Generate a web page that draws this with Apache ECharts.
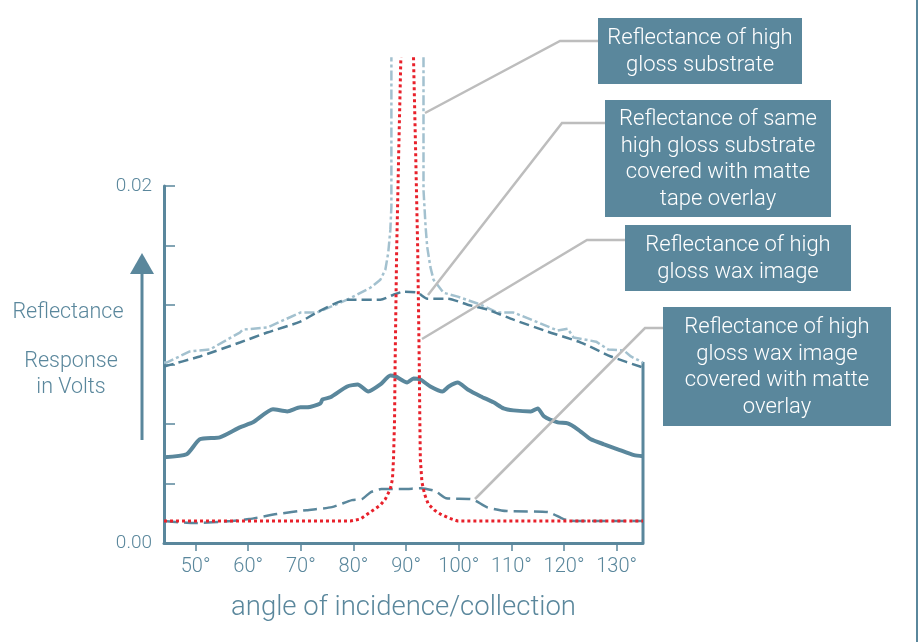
<!DOCTYPE html>
<html>
<head>
<meta charset="utf-8">
<script src="https://cdn.jsdelivr.net/npm/echarts@6/dist/echarts.min.js"></script>
<style>
  html, body { margin: 0; padding: 0; background: #fff; }
  #chart { width: 919px; height: 642px; }
</style>
</head>
<body>
<div id="chart"></div>
<script>
// angle (degrees) vs response (volts)
var xTicks = [50, 60, 70, 80, 90, 100, 110, 120, 130];
var yTicks = [0.02 / 6, 0.04 / 6, 0.06 / 6, 0.08 / 6, 0.1 / 6, 0.02];
var yLabels = [0, 0.02];

var substrate = [
  [44, 0.01011], [44.5, 0.01011], [48.9, 0.01073], [52.7, 0.01084], [58.4, 0.01179], [59.0, 0.01196],
  [63.6, 0.01207], [66.1, 0.01240], [69.9, 0.01291], [73.1, 0.01291], [78.8, 0.01363], [83.2, 0.01430],
  [85.1, 0.01475], [86.05, 0.01531], [86.6, 0.01626], [87.0, 0.01754], [87.2, 0.01883], [87.2, 0.02721],
  [90, '-'],
  [93.3, 0.02721], [93.3, 0.01978], [93.7, 0.01771], [94.0, 0.01659], [94.6, 0.01547], [95.2, 0.01475],
  [97.1, 0.01402], [99.8, 0.01380], [104.2, 0.01335], [107.4, 0.01291], [110.4, 0.01291], [114.2, 0.01246],
  [118.8, 0.01190], [120.7, 0.01201], [121.8, 0.01151], [126.1, 0.01128], [128.4, 0.01084], [131.4, 0.01078],
  [132.7, 0.01045], [135, 0.01011]
];

var substrateTape = [
  [44, 0.00989], [50.8, 0.01045], [58.4, 0.01123], [63.6, 0.01179], [69.9, 0.01240], [73.3, 0.01296],
  [78.8, 0.01363], [85.1, 0.01363], [87.6, 0.01391], [89.5, 0.01408], [92.2, 0.01402], [94.0, 0.01369],
  [97.9, 0.01369], [101.7, 0.01335], [105.5, 0.01307], [110.4, 0.01251], [116.9, 0.01184], [123.2, 0.01123],
  [128.9, 0.01045], [135, 0.00983]
];

var waxImage = [
  [44, 0.00480], [48.3, 0.00497], [50.8, 0.00581], [54.6, 0.00592], [58.4, 0.00648], [60.9, 0.00676],
  [64.7, 0.00749], [67.4, 0.00737], [69.9, 0.00760], [71.2, 0.00760], [73.7, 0.00782], [74.1, 0.00804],
  [75.6, 0.00816], [78.8, 0.00877], [80.8, 0.00888], [82.8, 0.00849], [85.1, 0.00888], [87.0, 0.00939],
  [88.0, 0.00933], [90.2, 0.00899], [91.4, 0.00922], [92.7, 0.00916], [94.6, 0.00877], [96.9, 0.00849],
  [98.1, 0.00877], [99.8, 0.00899], [101.7, 0.00860], [104.2, 0.00821], [106.6, 0.00788], [108.5, 0.00754],
  [110.4, 0.00743], [113.7, 0.00737], [115.0, 0.00754], [116.2, 0.00709], [118.8, 0.00676], [120.7, 0.00670],
  [122.6, 0.00637], [125.1, 0.00581], [127.6, 0.00553], [130.2, 0.00525], [133.3, 0.00492], [135, 0.00486]
];

var waxMatte = [
  [44, 0.00123], [49.4, 0.00112], [57.0, 0.00123], [60.2, 0.00134], [65.4, 0.00162], [71.1, 0.00184],
  [75.9, 0.00201], [79.7, 0.00240], [81.6, 0.00246], [83.3, 0.00285], [85.3, 0.00302], [89.5, 0.00302],
  [92.7, 0.00307], [95.5, 0.00291], [97.6, 0.00251], [102.5, 0.00246], [105.3, 0.00201], [109.1, 0.00179],
  [117.0, 0.00173], [119.9, 0.00134], [122.2, 0.00123], [135, 0.00123]
];

var specular = [
  [44, 0.00123], [79.4, 0.00123], [81.3, 0.00134], [83.2, 0.00173], [85.1, 0.00212], [86.05, 0.00246],
  [87.0, 0.00302], [87.4, 0.00358], [87.6, 0.00469], [87.8, 0.00693], [87.9, 0.00989], [88.2, 0.01642],
  [88.6, 0.02201], [89.0, 0.02721],
  [90, '-'],
  [91.4, 0.02721], [91.8, 0.02201], [92.2, 0.01642], [92.5, 0.00989], [92.6, 0.00693], [92.7, 0.00469],
  [93.0, 0.00341], [93.5, 0.00274], [94.2, 0.00218], [95.4, 0.00184], [96.5, 0.00162], [98.1, 0.00140],
  [99.8, 0.00123], [135, 0.00123]
];

var callouts = [
  'Reflectance of high\ngloss substrate',
  'Reflectance of same\nhigh gloss substrate\ncovered with matte\ntape overlay',
  'Reflectance of high\ngloss wax image',
  'Reflectance of high\ngloss wax image\ncovered with matte\noverlay'
];

var blue = '#5a879c';
var font = 'Roboto, Liberation Sans, Arial, sans-serif';
var weight = 300;

var chart = echarts.init(document.getElementById('chart'));

// callout boxes and leader lines
var boxes = [
  { x: 598, y: 18, w: 204, h: 66, line: [[598, 41], [560, 41], [425, 113]] },
  { x: 605, y: 100, w: 226, h: 117, line: [[605, 123], [562, 123], [428, 295]] },
  { x: 625, y: 225, w: 226, h: 66, line: [[625, 240], [587, 240], [422, 339]] },
  { x: 663, y: 307, w: 228, h: 119, line: [[663, 328], [645, 328], [475, 499]] }
];
var graphics = [];
boxes.forEach(function (b, i) {
  graphics.push({
    type: 'polyline', z: 50,
    shape: { points: b.line },
    style: { stroke: '#bdbdbd', lineWidth: 2.5, fill: null }
  });
  graphics.push({
    type: 'rect', z: 60,
    shape: { x: b.x, y: b.y, width: b.w, height: b.h },
    style: { fill: blue }
  });
  graphics.push({
    type: 'text', z: 61,
    x: b.x + b.w / 2, y: b.y + b.h / 2 + 1,
    style: {
      text: callouts[i], fill: '#ffffff', fontSize: 22, fontWeight: weight, fontFamily: font,
      lineHeight: 26.5, align: 'center', verticalAlign: 'middle'
    }
  });
});
// y-axis caption with arrow
graphics.push({
  type: 'polygon', shape: { points: [[142, 253], [130, 274], [154, 274]] }, style: { fill: blue }
});
graphics.push({
  type: 'line', shape: { x1: 142, y1: 272, x2: 142, y2: 440 }, style: { stroke: blue, lineWidth: 3 }
});
graphics.push({
  type: 'text', x: 68, y: 313,
  style: { text: 'Reflectance', fill: blue, fontSize: 21.5, fontWeight: weight, fontFamily: font, align: 'center', verticalAlign: 'middle' }
});
graphics.push({
  type: 'text', x: 71, y: 375,
  style: { text: 'Response\nin Volts', fill: blue, fontSize: 21.5, fontWeight: weight, fontFamily: font, lineHeight: 26, align: 'center', verticalAlign: 'middle' }
});
// right frame of plot and page edge
graphics.push({
  type: 'line', shape: { x1: 643, y1: 362, x2: 643, y2: 543 }, style: { stroke: blue, lineWidth: 3 }
});
graphics.push({
  type: 'line', shape: { x1: 917, y1: 0, x2: 917, y2: 642 }, style: { stroke: blue, lineWidth: 2 }
});

chart.setOption({
  animation: false,
  backgroundColor: '#ffffff',
  grid: { left: 164, right: 276, top: 186, bottom: 99 },
  xAxis: {
    type: 'value', min: 44, max: 135,
    name: 'angle of incidence/collection',
    nameLocation: 'middle', nameGap: 51,
    nameTextStyle: { color: blue, fontSize: 27.5, fontWeight: weight, fontFamily: font },
    axisLine: { lineStyle: { color: blue, width: 3 } },
    axisTick: { customValues: xTicks, length: 8, lineStyle: { color: blue, width: 1.5 } },
    axisLabel: {
      customValues: xTicks, margin: 14, color: blue, fontSize: 20, fontWeight: weight, fontFamily: font,
      formatter: function (v) { return v + '°'; }
    },
    splitLine: { show: false }
  },
  yAxis: {
    type: 'value', min: 0, max: 0.02,
    axisLine: { show: true, lineStyle: { color: blue, width: 3 } },
    axisTick: { show: true, inside: true, customValues: yTicks, length: 11, lineStyle: { color: blue, width: 1.5 } },
    axisLabel: {
      customValues: yLabels, margin: 12, color: blue, fontSize: 19, fontWeight: weight, fontFamily: font,
      formatter: function (v) { return v.toFixed(2); }
    },
    splitLine: { show: false }
  },
  graphic: graphics,
  series: [
    {
      type: 'line', data: substrate, clip: false, showSymbol: false, connectNulls: false,
      lineStyle: { color: '#a3c1cf', width: 2.5, type: [10, 3, 3, 3] }
    },
    {
      type: 'line', data: substrateTape, clip: false, showSymbol: false, smooth: 0.2,
      lineStyle: { color: '#4f7f96', width: 2.5, type: [10, 5] }
    },
    {
      type: 'line', data: waxImage, clip: false, showSymbol: false, smooth: 0.2,
      lineStyle: { color: blue, width: 4 }
    },
    {
      type: 'line', data: waxMatte, clip: false, showSymbol: false, smooth: 0.2,
      lineStyle: { color: blue, width: 2.5, type: [14, 6] }
    },
    {
      type: 'line', data: specular, clip: false, showSymbol: false, connectNulls: false,
      lineStyle: { color: '#e8212b', width: 3, type: [3, 3] }
    }
  ]
});
</script>
</body>
</html>
